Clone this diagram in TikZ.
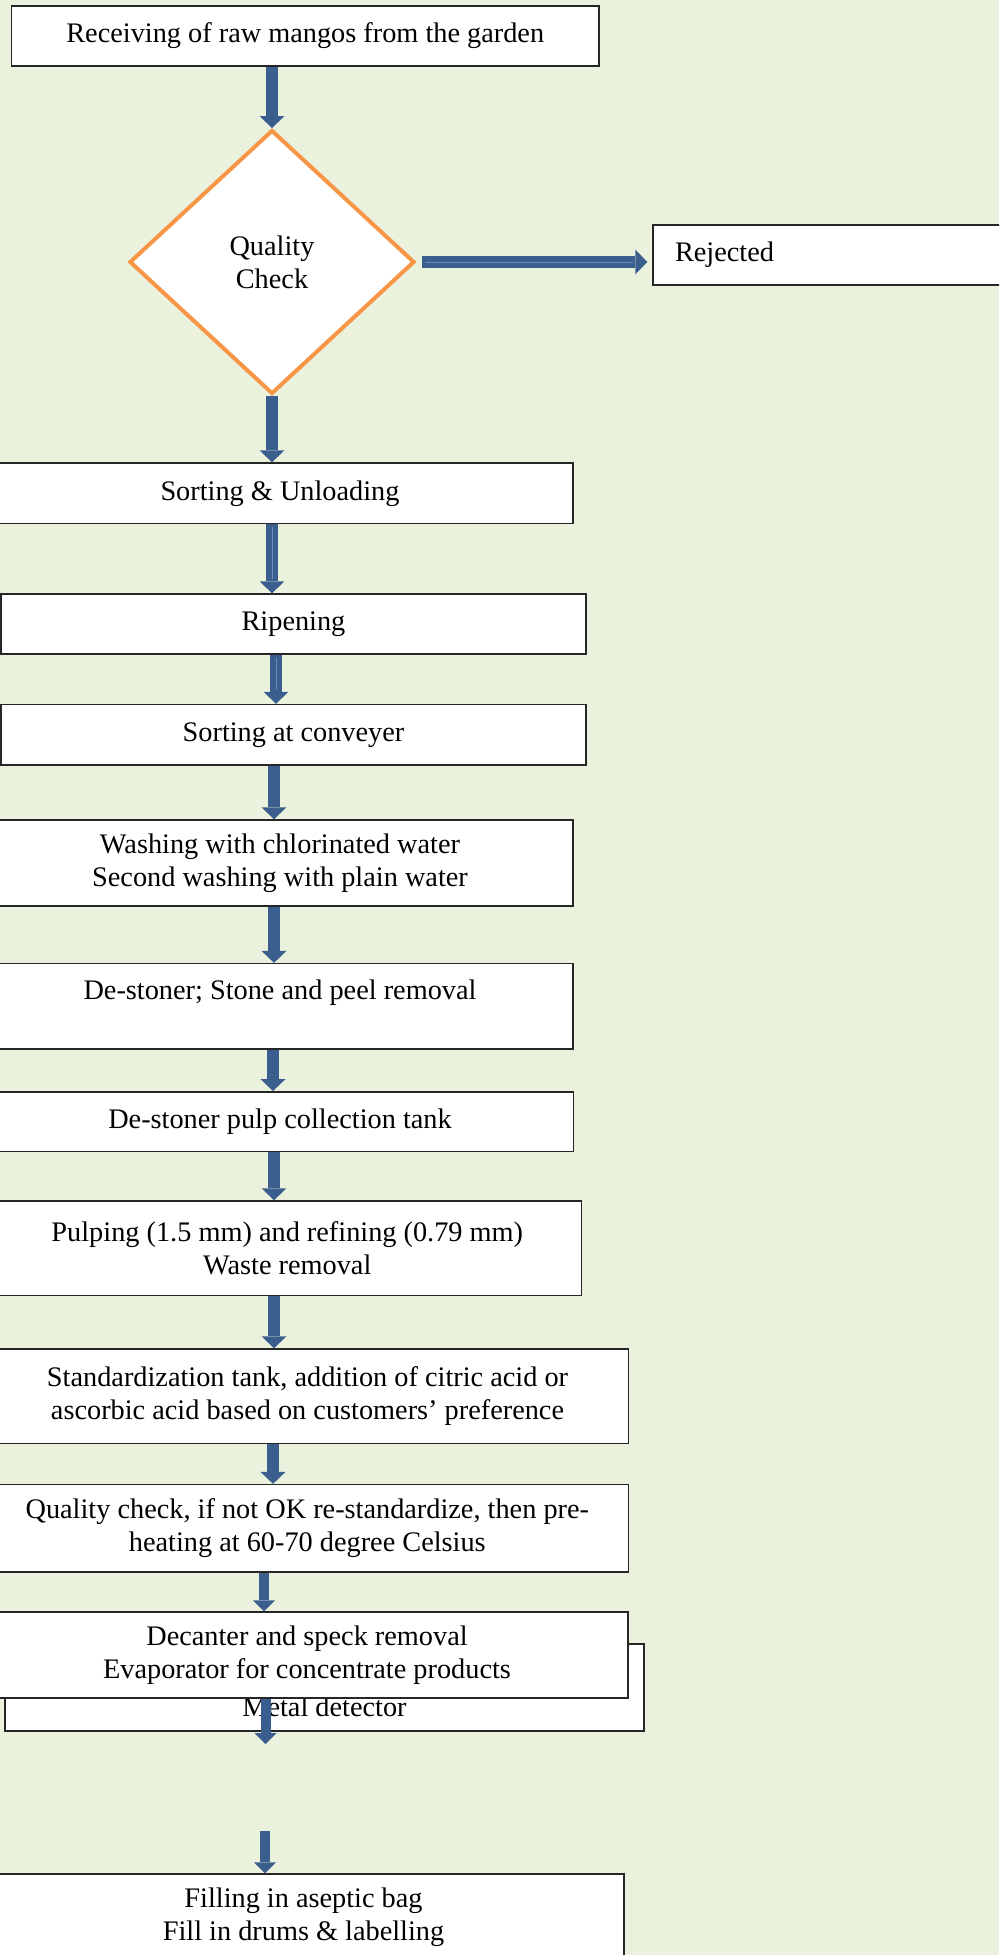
\documentclass[tikz,border=0pt]{standalone}
\usepackage{fontspec}
\setmainfont{Liberation Serif}
\usetikzlibrary{arrows.meta,shapes.geometric,calc}
\definecolor{bgcol}{HTML}{EAF1DD}
\definecolor{arrowblue}{HTML}{3A5E8D}
\definecolor{arrowhl}{HTML}{6A8CB9}
\definecolor{qcorange}{HTML}{F79646}
\definecolor{boxline}{HTML}{262626}
\begin{document}
\begin{tikzpicture}[x=1pt,y=-1pt,
  stepbox/.style={draw=boxline, line width=1.5pt, fill=white, align=center, inner sep=0pt,
    font=\fontsize{28.3}{33}\selectfont},
  decision/.style={diamond, draw=qcorange, line width=4pt, fill=white, align=center, inner sep=0pt,
    font=\fontsize{28.3}{33}\selectfont},
  plaintext/.style={inner sep=0pt, font=\fontsize{28.3}{33}\selectfont},
  blockarrow/.style={color=arrowblue, line width=12pt, -{Triangle[width=25pt,length=12pt,line width=0pt]}},
  smallarrow/.style={color=arrowblue, line width=10pt, -{Triangle[width=22pt,length=11pt,line width=0pt]}},
  hiline/.style={color=arrowhl, line width=1pt},
]
\path[use as bounding box] (0,0) rectangle (999,1955);
\clip (0,0) rectangle (999,1955);
\fill[bgcol] (0,0) rectangle (999,1955);

% column coordinates for the arrows
\coordinate (k272) at (272,0);
\coordinate (k276) at (276,0);
\coordinate (k274) at (274,0);
\coordinate (k273) at (273,0);
\coordinate (k264) at (264,0);

% boxes
\node[stepbox, minimum width=587.5pt, minimum height=60pt] (recv) at (305.25,36) {Receiving of raw mangos from the garden};
\node[decision, minimum width=285pt, minimum height=264pt] (qc) at (272,262) {Quality\\Check};
\node[stepbox, minimum width=357pt, minimum height=60pt, text width=313pt, inner xsep=22pt, align=left] (rej) at (831.5,255) {Rejected};
\node[stepbox, minimum width=586pt, minimum height=60.5pt] (su) at (280,493.25) {Sorting \& Unloading};
\node[stepbox, minimum width=585pt, minimum height=60pt] (rip) at (293.5,624) {Ripening};
\node[stepbox, minimum width=585pt, minimum height=60.5pt] (conv) at (293.5,734.75) {Sorting at conveyer};
\node[stepbox, minimum width=586pt, minimum height=86pt] (wash) at (280,863) {Washing with chlorinated water\\Second washing with plain water};
\node[stepbox, minimum width=586pt, minimum height=85.4pt] (dest) at (280,1006.3) {De-stoner; Stone and peel removal\\\mbox{}};
\node[stepbox, minimum width=587.4pt, minimum height=59.6pt] (tank) at (280,1121.6) {De-stoner pulp collection tank};
\node[stepbox, minimum width=588.7pt, minimum height=94.7pt] (pulp) at (287.3,1248.35) {Pulping (1.5 mm) and refining (0.79 mm)\\Waste removal};
\node[stepbox, minimum width=642pt, minimum height=94.6pt] (std) at (307.5,1396.3) {Standardization tank, addition of citric acid or\\ascorbic acid based on customers’ preference};
\node[stepbox, minimum width=642.6pt, minimum height=87.4pt] (qchk) at (307.3,1528.3) {Quality check, if not OK re-standardize, then pre-\\heating at 60-70 degree Celsius};
\node[stepbox, minimum width=639pt, minimum height=87pt] (md) at (324.5,1687.5) {};
\node[plaintext] (mdtext) at (324.5,1707) {Metal detector};
\node[stepbox, minimum width=642pt, minimum height=86pt] (dec) at (307,1655) {Decanter and speck removal\\Evaporator for concentrate products};
\node[stepbox, minimum width=641pt, minimum height=86pt] (fill) at (303.5,1917) {Filling in aseptic bag\\Fill in drums \& labelling};

% free ends of the split arrow pair
\coordinate (decend) at (265.5,1744);
\coordinate (fillstart) at (265,1831);

% arrows
\draw[blockarrow] (recv.south -| qc.north) -- (qc.north);
\draw[blockarrow] (qc.south) -- (su.north -| qc.south);
\draw[blockarrow, shorten <=5pt, shorten >=5pt] (qc.east) -- (rej.west |- qc.east);
\draw[hiline] ($(qc.east)+(8,0)$) -- ($(rej.west |- qc.east)+(-19,0)$);
\draw[blockarrow] (su.south -| k272) -- (rip.north -| k272);
\draw[hiline] ($(su.south -| k272)+(0,3)$) -- ($(rip.north -| k272)+(0,-14)$);
\draw[blockarrow] (rip.south -| k276) -- (conv.north -| k276);
\draw[hiline] ($(rip.south -| k276)+(0,3)$) -- ($(conv.north -| k276)+(0,-14)$);
\draw[blockarrow] (conv.south -| k274) -- (wash.north -| k274);
\draw[blockarrow] (wash.south -| k274) -- (dest.north -| k274);
\draw[blockarrow] (dest.south -| k273) -- (tank.north -| k273);
\draw[blockarrow] (tank.south -| k274) -- (pulp.north -| k274);
\draw[blockarrow] (pulp.south -| k274) -- (std.north -| k274);
\draw[blockarrow] (std.south -| k273) -- (qchk.north -| k273);
\draw[smallarrow] (qchk.south -| k264) -- (dec.north -| k264);
\draw[smallarrow] (dec.south -| decend) -- (decend);
\draw[smallarrow] (fillstart) -- (fill.north -| fillstart);
\end{tikzpicture}
\end{document}
